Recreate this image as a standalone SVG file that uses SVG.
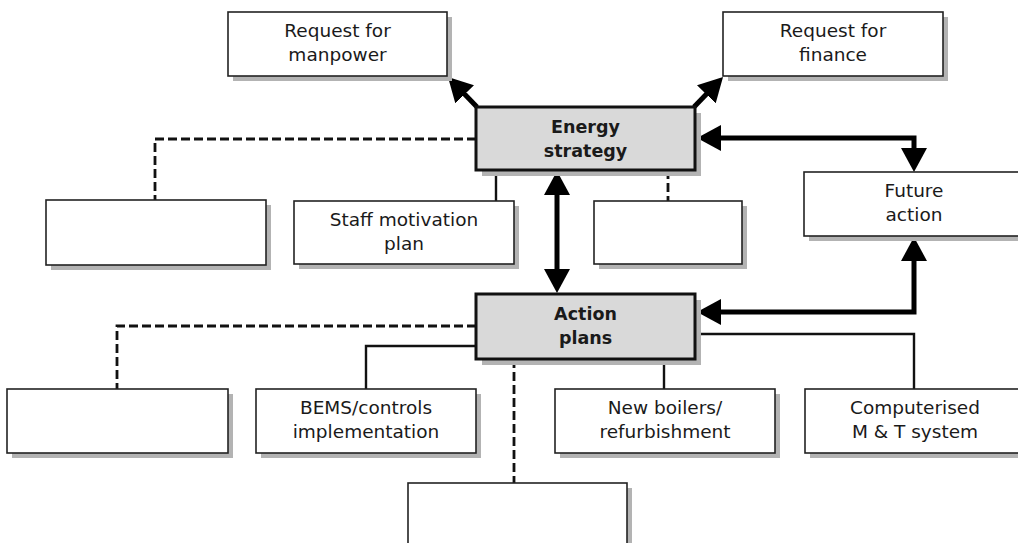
<svg xmlns="http://www.w3.org/2000/svg" width="1018" height="543" viewBox="0 0 1018 543">
<style>
.shadow{fill:#b3b3b3}
.box{fill:#ffffff;stroke:#222;stroke-width:1.6}
.main{fill:#d9d9d9;stroke:#111;stroke-width:3}
.t{font-family:"DejaVu Sans",sans-serif;font-size:18.5px;fill:#1a1a1a;text-anchor:middle}
.tb{font-family:"DejaVu Sans",sans-serif;font-size:17.5px;font-weight:bold;fill:#1a1a1a;text-anchor:middle}
.solid{fill:none;stroke:#111;stroke-width:2.4}
.dash{fill:none;stroke:#111;stroke-width:2.8;stroke-dasharray:9 4}
.arrow{fill:none;stroke:#000;stroke-width:5;stroke-linejoin:miter}
</style>
<defs>
<marker id="ah" viewBox="0 0 24 26" markerWidth="24" markerHeight="26" refX="10" refY="13" orient="auto-start-reverse" markerUnits="userSpaceOnUse">
<path d="M0,0 L24,13 L0,26 z" fill="#000"/>
</marker>
</defs>
<rect width="1018" height="543" fill="#ffffff"/>
<g id="connectors">
<path class="dash" d="M476,139 H155 V200"/>
<path class="solid" d="M496,170 V201"/>
<path class="dash" d="M668,170 V201"/>
<path class="dash" d="M476,326 H117 V389"/>
<path class="solid" d="M476,346 H366 V389"/>
<path class="dash" d="M514,359 V483"/>
<path class="solid" d="M664,359 V389"/>
<path class="solid" d="M695,334 H914 V389"/>
<path class="arrow" d="M477,107 L457.7,87.1" marker-end="url(#ah)"/>
<path class="arrow" d="M694,107 L713.3,87.1" marker-end="url(#ah)"/>
<path class="arrow" d="M557,185 V279" marker-start="url(#ah)" marker-end="url(#ah)"/>
<path class="arrow" d="M711,138 H914 V158" marker-start="url(#ah)" marker-end="url(#ah)"/>
<path class="arrow" d="M711,312 H914 V251" marker-start="url(#ah)" marker-end="url(#ah)"/>
</g>
<g id="request-manpower">
<rect class="shadow" x="233" y="17" width="219" height="64"/>
<rect class="box" x="228" y="12" width="219" height="64"/>
<text class="t" x="337.5" y="37">Request for</text>
<text class="t" x="337.5" y="61">manpower</text>
</g>
<g id="request-finance">
<rect class="shadow" x="728" y="17" width="220" height="64"/>
<rect class="box" x="723" y="12" width="220" height="64"/>
<text class="t" x="833" y="37">Request for</text>
<text class="t" x="833" y="61">finance</text>
</g>
<g id="energy-strategy">
<rect class="shadow" x="482" y="113" width="219" height="63"/>
<rect class="main" x="476" y="107" width="219" height="63"/>
<text class="tb" x="585.5" y="133">Energy</text>
<text class="tb" x="585.5" y="157">strategy</text>
</g>
<g id="blank-left-1">
<rect class="shadow" x="51" y="205" width="220" height="65"/>
<rect class="box" x="46" y="200" width="220" height="65"/>
</g>
<g id="staff-motivation">
<rect class="shadow" x="299" y="206" width="220" height="63"/>
<rect class="box" x="294" y="201" width="220" height="63"/>
<text class="t" x="404" y="226">Staff motivation</text>
<text class="t" x="404" y="250">plan</text>
</g>
<g id="blank-mid-1">
<rect class="shadow" x="599" y="206" width="148" height="63"/>
<rect class="box" x="594" y="201" width="148" height="63"/>
</g>
<g id="future-action">
<rect class="shadow" x="809" y="177" width="220" height="64"/>
<rect class="box" x="804" y="172" width="220" height="64"/>
<text class="t" x="914" y="197">Future</text>
<text class="t" x="914" y="221">action</text>
</g>
<g id="action-plans">
<rect class="shadow" x="482" y="300" width="219" height="65"/>
<rect class="main" x="476" y="294" width="219" height="65"/>
<text class="tb" x="585.5" y="320">Action</text>
<text class="tb" x="585.5" y="344">plans</text>
</g>
<g id="blank-left-2">
<rect class="shadow" x="12" y="394" width="221" height="64"/>
<rect class="box" x="7" y="389" width="221" height="64"/>
</g>
<g id="bems">
<rect class="shadow" x="261" y="394" width="220" height="64"/>
<rect class="box" x="256" y="389" width="220" height="64"/>
<text class="t" x="366" y="414">BEMS/controls</text>
<text class="t" x="366" y="438">implementation</text>
</g>
<g id="new-boilers">
<rect class="shadow" x="560" y="394" width="220" height="64"/>
<rect class="box" x="555" y="389" width="220" height="64"/>
<text class="t" x="665" y="414">New boilers/</text>
<text class="t" x="665" y="438">refurbishment</text>
</g>
<g id="computerised">
<rect class="shadow" x="810" y="394" width="220" height="64"/>
<rect class="box" x="805" y="389" width="220" height="64"/>
<text class="t" x="915" y="414">Computerised</text>
<text class="t" x="915" y="438">M &amp; T system</text>
</g>
<g id="blank-bottom">
<rect class="shadow" x="413" y="488" width="219" height="70"/>
<rect class="box" x="408" y="483" width="219" height="70"/>
</g>
</svg>
